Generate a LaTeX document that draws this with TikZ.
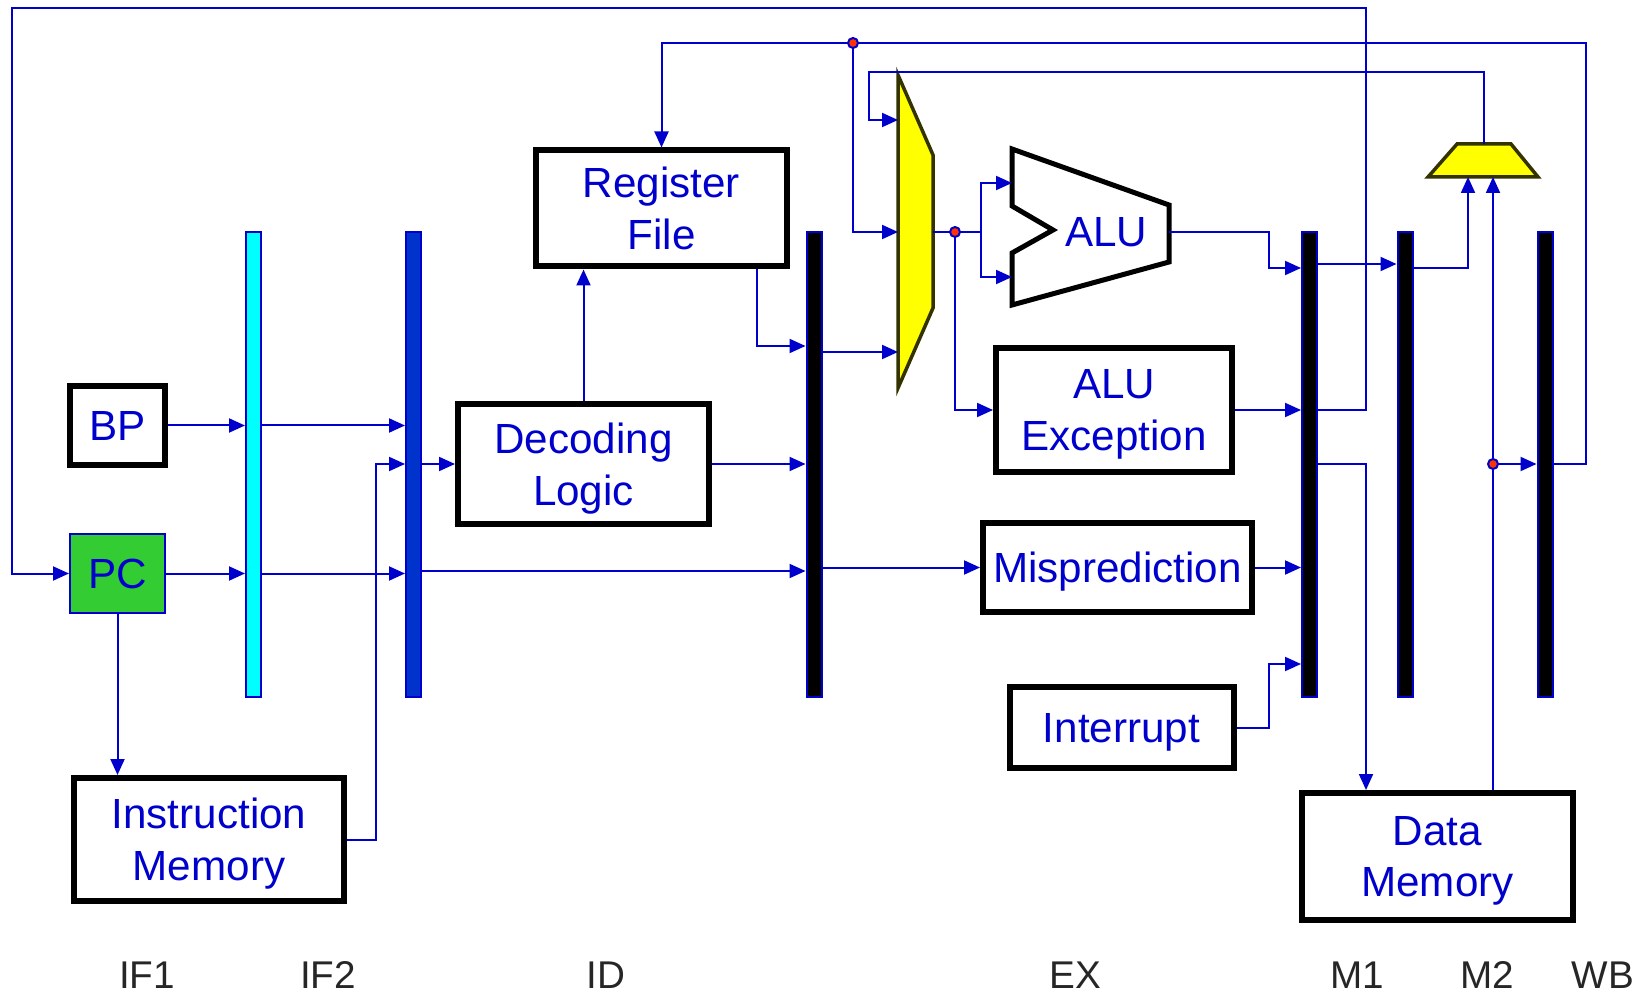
\documentclass[tikz,border=0pt]{standalone}
\usepackage{fontspec}
\setmainfont{Liberation Sans}
\usetikzlibrary{arrows.meta}

\definecolor{wireblue}{RGB}{0,0,204}
\definecolor{latchblue}{RGB}{0,51,204}
\definecolor{latchcyan}{RGB}{0,255,255}
\definecolor{pcgreen}{RGB}{51,204,51}
\definecolor{muxyellow}{RGB}{255,255,0}
\definecolor{muxedge}{RGB}{51,51,0}
\definecolor{dotred}{RGB}{255,51,0}

\begin{document}
\begin{tikzpicture}[x=0.1mm, y=-0.1mm,
  bus/.style={draw=wireblue, line width=0.2mm},
  wire/.style={bus, -{Triangle[length=1.6mm,width=1.4mm]}},
  lbl/.style={text=wireblue, font=\fontsize{12}{14.7}\selectfont, text depth=0pt},
  box/.style={lbl, draw, line width=0.6mm, fill=white, align=center, inner sep=0pt},
  latch/.style={draw=wireblue, line width=0.2mm, minimum width=1.5mm,
    minimum height=46.5mm, inner sep=0pt},
  mux/.style={fill=muxyellow, draw=muxedge, line width=0.35mm},
  joint/.style={circle, fill=dotred, draw=wireblue, line width=0.2mm,
    minimum size=1mm, inner sep=0pt},
  stage/.style={anchor=base, text=black!85, font=\fontsize{11}{13}\selectfont}]

  \useasboundingbox (0,0) rectangle (1648,993);

  % pipeline latches
  \node[latch, fill=latchcyan] (l1) at (253.5,464.5) {};
  \node[latch, fill=latchblue] (l2) at (413.5,464.5) {};
  \node[latch, fill=black]     (l3) at (814,464.5) {};
  \node[latch, fill=black]     (l4) at (1309.5,464.5) {};
  \node[latch, fill=black]     (l5) at (1405,464.5) {};
  \node[latch, fill=black]     (l6) at (1545,464.5) {};

  % blocks
  \node[box, minimum width=9.5mm, minimum height=7.9mm] (bp) at (117.5,425.5) {BP};
  \node[box, fill=pcgreen, draw=wireblue, line width=0.2mm,
    minimum width=9.5mm, minimum height=7.9mm] (pc) at (117.5,573.5) {PC};
  \node[box, minimum width=27mm, minimum height=12.3mm] (imem) at (209,839.5) {Instruction\\Memory};
  \node[box, minimum width=25.1mm, minimum height=11.6mm] (rf) at (661.5,208.5) {Register\\File};
  \node[box, minimum width=25.1mm, minimum height=12mm] (dec) at (583.5,464) {Decoding\\Logic};
  \node[box, minimum width=23.6mm, minimum height=12.4mm] (aluexc) at (1114,410) {ALU\\Exception};
  \node[box, minimum width=26.9mm, minimum height=8.9mm] (misp) at (1117.5,567.5) {Misprediction};
  \node[box, minimum width=22.4mm, minimum height=8.1mm] (intr) at (1121.5,727.5) {Interrupt};
  \node[box, minimum width=27.1mm, minimum height=12.7mm] (dmem) at (1437.5,856.5) {Data\\Memory};

  % operand mux, ALU, write-back mux
  \draw[mux] (898,75) -- (933,155) -- (933,308) -- (898,388) -- cycle;
  \draw[line width=0.5mm, line join=miter] (1012,149) -- (1169,205) -- (1169,262)
    -- (1012,305) -- (1012,253) -- (1053,230) -- (1012,206) -- cycle;
  \node[lbl] (alu) at (1106,232) {ALU};
  \draw[mux] (1428,177) -- (1457,144) -- (1511,144) -- (1538,177) -- cycle;

  \coordinate (muxout) at (933,232);
  \coordinate (aluout) at (1169,232);
  \coordinate (wbmux)  at (1484,144);
  \coordinate (fwdwb)  at (853,43);   % forwarding taps
  \coordinate (fwdex)  at (955,232);
  \coordinate (fwdmem) at (1493,464);

  % IF1 -> IF2 -> ID
  \draw[wire] (bp.east) -- (l1.west |- bp.east);
  \draw[wire] (l1.east |- bp.east) -- (l2.west |- bp.east);
  \draw[wire] (pc.east) -- (l1.west |- pc.east);
  \draw[wire] (l1.east |- pc.east) -- (l2.west |- pc.east);
  \draw[wire] (pc.south) -- (imem.north -| pc.south);
  \draw[wire] (imem.east) -| (376,464) -- (l2.west |- dec.west);
  \draw[wire] (l2.east |- dec.west) -- (dec.west);

  % ID -> EX
  \draw[wire] (dec.north) -- (rf.south -| dec.north);
  \draw[wire] (dec.east) -- (l3.west |- dec.east);
  \draw[wire] (rf.south -| 757,0) |- (l3.west |- 0,346);
  \draw[wire] (l2.east |- 0,571) -- (l3.west |- 0,571);

  % EX
  \draw[wire] (l3.east |- 0,352) -- (898,352);
  \draw[wire] (l3.east |- misp.west) -- (misp.west);
  \draw[bus] (muxout) -- (981,232);
  \draw[wire] (981,232) |- (1012,183);
  \draw[wire] (981,232) |- (1012,277);
  \draw[wire] (fwdex) |- (aluexc.west);
  \draw[wire] (aluout) -| (1269,268) -- (l4.west |- 0,268);
  \draw[wire] (aluexc.east) -- (l4.west |- aluexc.east);
  \draw[wire] (misp.east) -- (l4.west |- misp.east);
  \draw[wire] (intr.east) -| (1269,664) -- (l4.west |- 0,664);

  % M1, M2
  \draw[wire] (l4.east |- 0,264) -- (l5.west |- 0,264);
  \draw[wire] (l4.east |- 0,464) -| (dmem.north -| 1366,0);
  \draw[wire] (l5.east |- 0,268) -| (1468,177);
  \draw[wire] (dmem.north -| 1493,0) -- (1493,177);
  \draw[wire] (fwdmem) -- (l6.west |- fwdmem);

  % feedback paths
  \draw[wire] (l6.east |- 0,464) -| (1586,43) -| (rf.north);
  \draw[wire] (fwdwb) |- (898,232);
  \draw[wire] (wbmux) |- (869,72) |- (898,120);
  \draw[wire] (l4.east |- aluexc.east) -| (1366,8) -| (pc.west -| 12,0) -- (pc.west);

  \node[joint] (jwb)  at (fwdwb) {};
  \node[joint] (jex)  at (fwdex) {};
  \node[joint] (jmem) at (fwdmem) {};

  % stage names
  \node[stage] (sif1) at (147,988)  {IF1};
  \node[stage] (sif2) at (328,988)  {IF2};
  \node[stage] (sid)  at (606,988)  {ID};
  \node[stage] (sex)  at (1075,988) {EX};
  \node[stage] (sm1)  at (1357,988) {M1};
  \node[stage] (sm2)  at (1487,988) {M2};
  \node[stage] (swb)  at (1603,988) {WB};
\end{tikzpicture}
\end{document}
